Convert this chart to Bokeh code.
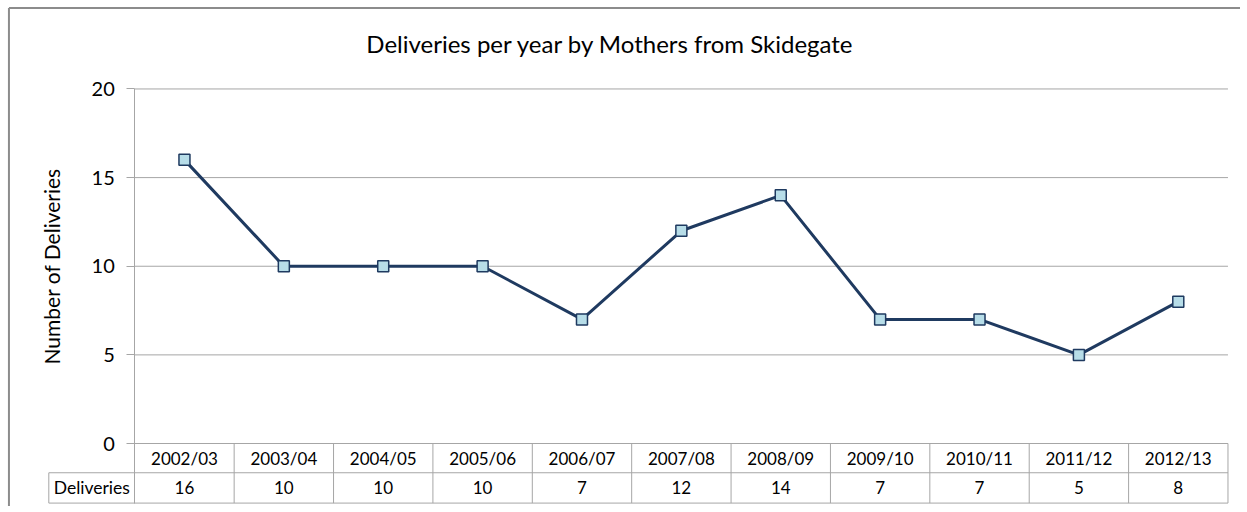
from bokeh.plotting import figure
from bokeh.models import LinearAxis, FixedTicker, Label, Range1d, ColumnDataSource
from bokeh.core.properties import value
from bokeh.embed import file_html
from bokeh.resources import INLINE

# ---- data ----
categories = ["2002/03", "2003/04", "2004/05", "2005/06", "2006/07", "2007/08",
              "2008/09", "2009/10", "2010/11", "2011/12", "2012/13"]
deliveries = [16, 10, 10, 10, 7, 12, 14, 7, 7, 5, 8]
y_ticks = [0, 5, 10, 15, 20]
series_name = "Deliveries"
title_text = "Deliveries per year by Mothers from Skidegate"
y_label = "Number of Deliveries"

# ---- layout (in data units) ----
FONT = "Lato"
n = len(categories)
xs = list(range(n))
x_left, x_right = -0.5, n - 0.5
row1_bot = -1.65
row2_bot = -3.36
name_left = -1.365
X0, X1 = -1.851, 10.626
Y0, Y1 = -3.553, 24.99
border_x, border_y = -1.766, 24.57
GRID = "#a6a6a6"
LINE = "#1f3a60"
FILL = "#b7dde8"

p = figure(width=1240, height=506, output_backend="svg", toolbar_location=None,
           x_range=Range1d(X0, X1), y_range=Range1d(Y0, Y1),
           x_axis_location=None, y_axis_location=None,
           min_border=0, min_border_left=0, min_border_right=0,
           min_border_top=0, min_border_bottom=0)
p.outline_line_color = None
p.background_fill_color = "white"
p.border_fill_color = "white"
p.grid.grid_line_color = None

# outer chart border (left and top visible in the crop)
p.segment(x0=[border_x, border_x], y0=[Y0, border_y], x1=[border_x, X1], y1=[border_y, border_y],
          line_color="#8c8c8c", line_width=2)

# horizontal gridlines over the plot area
gl = [t for t in y_ticks if t > 0]
p.segment(x0=[x_left] * len(gl), y0=gl, x1=[x_right] * len(gl), y1=gl,
          line_color=GRID, line_width=1)

# y axis at the left edge of the plot area
yax = LinearAxis(fixed_location=x_left, bounds=(row2_bot, y_ticks[-1]),
                 ticker=FixedTicker(ticks=y_ticks))
yax.axis_line_color = GRID
yax.axis_line_width = 1
yax.major_tick_line_color = GRID
yax.major_tick_out = 8
yax.major_tick_in = 0
yax.minor_tick_line_color = None
yax.major_label_standoff = 12
yax.major_label_text_font = FONT
yax.major_label_text_font_size = "20px"
yax.major_label_text_color = "#000000"
p.add_layout(yax, "left")

# data table lines
h_y = [0, row1_bot, row2_bot]
h_x0 = [x_left, name_left, name_left]
p.segment(x0=h_x0, y0=h_y, x1=[x_right] * 3, y1=h_y, line_color=GRID, line_width=1)
vb = [i + 0.5 for i in xs]
p.segment(x0=vb, y0=[0] * n, x1=vb, y1=[row2_bot] * n, line_color=GRID, line_width=1)
p.segment(x0=[name_left], y0=[row1_bot], x1=[name_left], y1=[row2_bot],
          line_color=GRID, line_width=1)

# table texts
p.text(x=xs, y=[row1_bot / 2] * n, text=categories, text_font=value(FONT),
       text_font_size="17px", text_align="center", text_baseline="middle",
       text_color="#000000")
p.text(x=xs, y=[(row1_bot + row2_bot) / 2] * n, text=[str(v) for v in deliveries],
       text_font=value(FONT), text_font_size="17px", text_align="center",
       text_baseline="middle", text_color="#000000")
p.text(x=[(name_left + x_left) / 2], y=[(row1_bot + row2_bot) / 2], text=[series_name],
       text_font=value(FONT), text_font_size="17.5px", text_align="center",
       text_baseline="middle", text_color="#000000")

# series
src = ColumnDataSource(dict(x=xs, y=deliveries))
p.line("x", "y", source=src, line_color=LINE, line_width=3)
p.scatter("x", "y", source=src, marker="square", size=11, fill_color=FILL,
          line_color=LINE, line_width=1.5)

# y axis title
p.text(x=[-1.34], y=[10], text=[y_label], angle=1.5708, text_font=value(FONT),
       text_font_size="21px", text_align="center", text_baseline="middle",
       text_color="#000000")

# chart title
p.add_layout(Label(x=4.287, y=22.56, text=title_text, text_font=FONT,
                   text_font_size="24px", text_align="center",
                   text_baseline="middle", text_color="#000000"))

open("out.html", "w").write(file_html(p, INLINE))
